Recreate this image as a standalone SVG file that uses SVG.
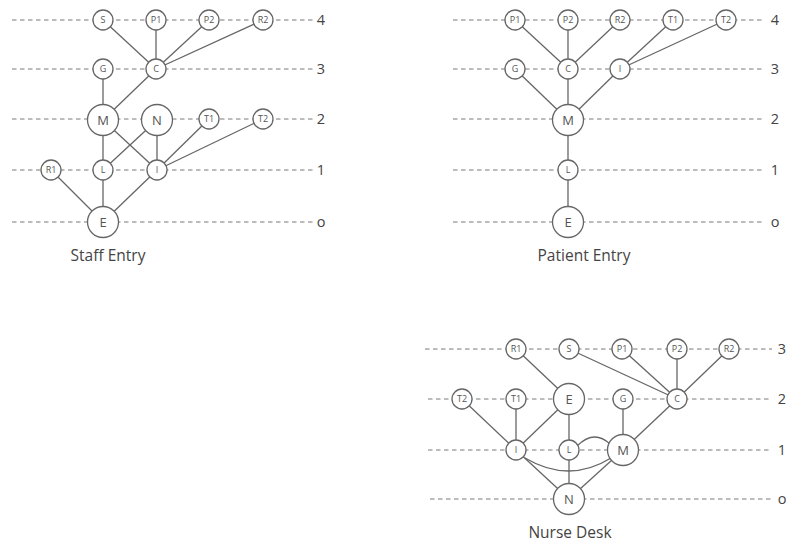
<svg xmlns="http://www.w3.org/2000/svg" width="788" height="544" viewBox="0 0 788 544">
<style>
.lv{stroke:#7a7a7a;stroke-width:1.2;stroke-dasharray:4.5 3.5;fill:none}
.e{stroke:#666;stroke-width:1.3;fill:none}
.n circle{fill:#fff;stroke:#666;stroke-width:1.3}
.n text{font-family:"Open Sans","DejaVu Sans",sans-serif;fill:#555;text-anchor:middle}
.s text{font-size:9px}
.b text{font-size:13px}
.t{font-family:"Open Sans","DejaVu Sans",sans-serif;fill:#444;font-size:14.5px;text-anchor:middle}
.h{font-family:"Open Sans","DejaVu Sans",sans-serif;fill:#444;font-size:15.5px;text-anchor:middle}
</style>
<rect width="788" height="544" fill="#fff"/>
<g id="levels">
<line class="lv" x1="12" y1="20" x2="314" y2="20"/>
<line class="lv" x1="12" y1="69" x2="314" y2="69"/>
<line class="lv" x1="12" y1="119" x2="314" y2="119"/>
<line class="lv" x1="12" y1="170" x2="314" y2="170"/>
<line class="lv" x1="12" y1="222" x2="314" y2="222"/>
<text class="t" x="321" y="25">4</text>
<text class="t" x="321" y="74">3</text>
<text class="t" x="321" y="124">2</text>
<text class="t" x="321" y="175">1</text>
<text class="t" x="321" y="227">o</text>
<line class="lv" x1="453" y1="20" x2="765" y2="20"/>
<line class="lv" x1="453" y1="69" x2="765" y2="69"/>
<line class="lv" x1="453" y1="119" x2="765" y2="119"/>
<line class="lv" x1="453" y1="170" x2="765" y2="170"/>
<line class="lv" x1="453" y1="222" x2="765" y2="222"/>
<text class="t" x="775" y="25">4</text>
<text class="t" x="775" y="74">3</text>
<text class="t" x="775" y="124">2</text>
<text class="t" x="775" y="175">1</text>
<text class="t" x="775" y="227">o</text>
<line class="lv" x1="425" y1="349" x2="772" y2="349"/>
<line class="lv" x1="428" y1="399" x2="772" y2="399"/>
<line class="lv" x1="428" y1="450" x2="772" y2="450"/>
<line class="lv" x1="430" y1="499" x2="772" y2="499"/>
<text class="t" x="782" y="354">3</text>
<text class="t" x="782" y="404">2</text>
<text class="t" x="782" y="455">1</text>
<text class="t" x="782" y="504">o</text>
</g>
<g id="connectors">
<line class="e" x1="103" y1="20" x2="156" y2="69"/>
<line class="e" x1="156" y1="20" x2="156" y2="69"/>
<line class="e" x1="209" y1="20" x2="156" y2="69"/>
<line class="e" x1="263" y1="20" x2="156" y2="69"/>
<line class="e" x1="103" y1="69" x2="103" y2="120"/>
<line class="e" x1="156" y1="69" x2="103" y2="120"/>
<line class="e" x1="103" y1="120" x2="103" y2="170"/>
<line class="e" x1="103" y1="120" x2="157" y2="170"/>
<line class="e" x1="157" y1="120" x2="103" y2="170"/>
<line class="e" x1="157" y1="120" x2="157" y2="170"/>
<line class="e" x1="209" y1="119" x2="157" y2="170"/>
<line class="e" x1="263" y1="119" x2="157" y2="170"/>
<line class="e" x1="51" y1="170" x2="103" y2="222"/>
<line class="e" x1="103" y1="170" x2="103" y2="222"/>
<line class="e" x1="157" y1="170" x2="103" y2="222"/>
<line class="e" x1="515" y1="20" x2="568" y2="69"/>
<line class="e" x1="568" y1="20" x2="568" y2="69"/>
<line class="e" x1="620" y1="20" x2="568" y2="69"/>
<line class="e" x1="673" y1="20" x2="620" y2="69"/>
<line class="e" x1="726" y1="20" x2="620" y2="69"/>
<line class="e" x1="515" y1="69" x2="568" y2="120"/>
<line class="e" x1="568" y1="69" x2="568" y2="120"/>
<line class="e" x1="620" y1="69" x2="568" y2="120"/>
<line class="e" x1="568" y1="120" x2="568" y2="170"/>
<line class="e" x1="568" y1="170" x2="568" y2="222"/>
<line class="e" x1="516" y1="349" x2="569" y2="399"/>
<line class="e" x1="569" y1="349" x2="677" y2="399"/>
<line class="e" x1="622" y1="349" x2="677" y2="399"/>
<line class="e" x1="677" y1="349" x2="677" y2="399"/>
<line class="e" x1="729" y1="349" x2="677" y2="399"/>
<line class="e" x1="462" y1="399" x2="516" y2="450"/>
<line class="e" x1="516" y1="399" x2="516" y2="450"/>
<line class="e" x1="569" y1="399" x2="516" y2="450"/>
<line class="e" x1="569" y1="399" x2="569" y2="450"/>
<line class="e" x1="623" y1="399" x2="623" y2="450"/>
<line class="e" x1="677" y1="399" x2="623" y2="450"/>
<path class="e" d="M577,446 Q594,429 610,444"/>
<path class="e" d="M525,458 Q569,484 611,458"/>
<line class="e" x1="516" y1="450" x2="569" y2="499"/>
<line class="e" x1="569" y1="450" x2="569" y2="499"/>
<line class="e" x1="623" y1="450" x2="569" y2="499"/>
</g>
<g id="staff-S" class="n s"><circle cx="103" cy="20" r="10"/><text x="103" y="23.2">S</text></g>
<g id="staff-P1" class="n s"><circle cx="156" cy="20" r="10"/><text x="156" y="23.2">P1</text></g>
<g id="staff-P2" class="n s"><circle cx="209" cy="20" r="10"/><text x="209" y="23.2">P2</text></g>
<g id="staff-R2" class="n s"><circle cx="263" cy="20" r="10"/><text x="263" y="23.2">R2</text></g>
<g id="staff-G" class="n s"><circle cx="103" cy="69" r="10"/><text x="103" y="72.2">G</text></g>
<g id="staff-C" class="n s"><circle cx="156" cy="69" r="10"/><text x="156" y="72.2">C</text></g>
<g id="staff-M" class="n b"><circle cx="103" cy="120" r="15.5"/><text x="103" y="124.6">M</text></g>
<g id="staff-N" class="n b"><circle cx="157" cy="120" r="15.5"/><text x="157" y="124.6">N</text></g>
<g id="staff-T1" class="n s"><circle cx="209" cy="119" r="10"/><text x="209" y="122.2">T1</text></g>
<g id="staff-T2" class="n s"><circle cx="263" cy="119" r="10"/><text x="263" y="122.2">T2</text></g>
<g id="staff-R1" class="n s"><circle cx="51" cy="170" r="10"/><text x="51" y="173.2">R1</text></g>
<g id="staff-L" class="n s"><circle cx="103" cy="170" r="10"/><text x="103" y="173.2">L</text></g>
<g id="staff-I" class="n s"><circle cx="157" cy="170" r="10"/><text x="157" y="173.2">I</text></g>
<g id="staff-E" class="n b"><circle cx="103" cy="222" r="15.5"/><text x="103" y="226.6">E</text></g>
<text id="staff-title" class="h" x="108" y="261">Staff Entry</text>

<g id="patient-P1" class="n s"><circle cx="515" cy="20" r="10"/><text x="515" y="23.2">P1</text></g>
<g id="patient-P2" class="n s"><circle cx="568" cy="20" r="10"/><text x="568" y="23.2">P2</text></g>
<g id="patient-R2" class="n s"><circle cx="620" cy="20" r="10"/><text x="620" y="23.2">R2</text></g>
<g id="patient-T1" class="n s"><circle cx="673" cy="20" r="10"/><text x="673" y="23.2">T1</text></g>
<g id="patient-T2" class="n s"><circle cx="726" cy="20" r="10"/><text x="726" y="23.2">T2</text></g>
<g id="patient-G" class="n s"><circle cx="515" cy="69" r="10"/><text x="515" y="72.2">G</text></g>
<g id="patient-C" class="n s"><circle cx="568" cy="69" r="10"/><text x="568" y="72.2">C</text></g>
<g id="patient-I" class="n s"><circle cx="620" cy="69" r="10"/><text x="620" y="72.2">I</text></g>
<g id="patient-M" class="n b"><circle cx="568" cy="120" r="15.5"/><text x="568" y="124.6">M</text></g>
<g id="patient-L" class="n s"><circle cx="568" cy="170" r="10"/><text x="568" y="173.2">L</text></g>
<g id="patient-E" class="n b"><circle cx="568" cy="222" r="15.5"/><text x="568" y="226.6">E</text></g>
<text id="patient-title" class="h" x="584" y="261">Patient Entry</text>

<g id="nurse-R1" class="n s"><circle cx="516" cy="349" r="10"/><text x="516" y="352.2">R1</text></g>
<g id="nurse-S" class="n s"><circle cx="569" cy="349" r="10"/><text x="569" y="352.2">S</text></g>
<g id="nurse-P1" class="n s"><circle cx="622" cy="349" r="10"/><text x="622" y="352.2">P1</text></g>
<g id="nurse-P2" class="n s"><circle cx="677" cy="349" r="10"/><text x="677" y="352.2">P2</text></g>
<g id="nurse-R2" class="n s"><circle cx="729" cy="349" r="10"/><text x="729" y="352.2">R2</text></g>
<g id="nurse-T2" class="n s"><circle cx="462" cy="399" r="10"/><text x="462" y="402.2">T2</text></g>
<g id="nurse-T1" class="n s"><circle cx="516" cy="399" r="10"/><text x="516" y="402.2">T1</text></g>
<g id="nurse-E" class="n b"><circle cx="569" cy="399" r="15.5"/><text x="569" y="403.6">E</text></g>
<g id="nurse-G" class="n s"><circle cx="623" cy="399" r="10"/><text x="623" y="402.2">G</text></g>
<g id="nurse-C" class="n s"><circle cx="677" cy="399" r="10"/><text x="677" y="402.2">C</text></g>
<g id="nurse-I" class="n s"><circle cx="516" cy="450" r="10"/><text x="516" y="453.2">I</text></g>
<g id="nurse-L" class="n s"><circle cx="569" cy="450" r="10"/><text x="569" y="453.2">L</text></g>
<g id="nurse-M" class="n b"><circle cx="623" cy="450" r="15.5"/><text x="623" y="454.6">M</text></g>
<g id="nurse-N" class="n b"><circle cx="569" cy="499" r="15.5"/><text x="569" y="503.6">N</text></g>
<text id="nurse-title" class="h" x="570" y="538">Nurse Desk</text>
</svg>
